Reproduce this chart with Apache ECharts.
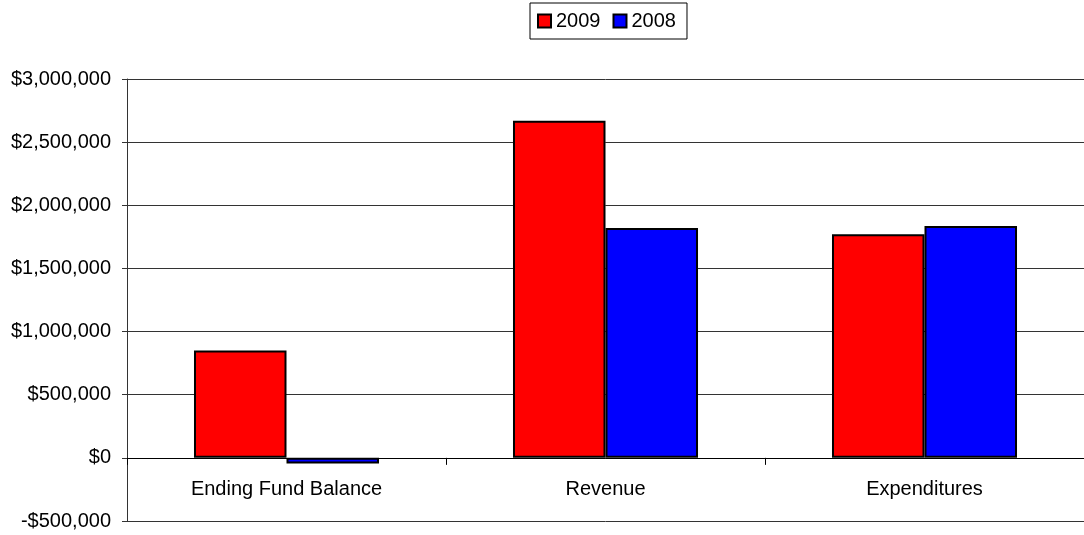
<!DOCTYPE html>
<html>
<head>
<meta charset="utf-8">
<script src="https://cdn.jsdelivr.net/npm/echarts@6/dist/echarts.min.js"></script>
<style>
  html, body { margin: 0; padding: 0; background: #fff; }
  #chart { width: 1084px; height: 535px; }
</style>
</head>
<body>
<div id="chart"></div>
<script>
// Fund summary: ending balance, revenue and expenditures, 2009 vs 2008
const categories = ['Ending Fund Balance', 'Revenue', 'Expenditures'];
const values2009 = [850000, 2670000, 1770000];
const values2008 = [-45000, 1820000, 1835000];
const yTicks = { min: -500000, max: 3000000, step: 500000 };

const fontFamily = '"Liberation Sans", Arial, sans-serif';

function dollars(v) {
  const s = '$' + Math.abs(v).toLocaleString('en-US');
  return v < 0 ? '-' + s : s;
}

const W = 1084, H = 535;
const gridBox = { left: 127, right: 0, top: 79, bottom: 14 };
const plotHeight = H - gridBox.top - gridBox.bottom;
// the category axis (line, ticks and labels) sits on the $0 line
const zeroOffset = -plotHeight * (0 - yTicks.min) / (yTicks.max - yTicks.min);

const chart = echarts.init(document.getElementById('chart'), null, { renderer: 'canvas' });

const barBorder = { borderColor: '#000', borderWidth: 2 };

chart.setOption({
  animation: false,
  backgroundColor: '#fff',
  textStyle: { fontFamily: fontFamily, color: '#000' },
  legend: {
    left: 530,
    top: 3,
    padding: [8, 11, 8, 7],
    borderColor: '#000',
    borderWidth: 1,
    itemGap: 12,
    itemWidth: 13,
    itemHeight: 13,
    icon: 'rect',
    textStyle: { fontSize: 20, color: '#000', fontFamily: fontFamily },
    data: ['2009', '2008']
  },
  grid: Object.assign({ containLabel: false, outerBoundsMode: 'none' }, gridBox),
  xAxis: {
    type: 'category',
    data: categories,
    offset: zeroOffset,
    axisLine: { onZero: false, lineStyle: { color: '#000', width: 1 } },
    axisTick: { show: true, length: 7, interval: 0, lineStyle: { color: '#000' } },
    axisLabel: { fontSize: 20, color: '#000', margin: 22, interval: 0, fontFamily: fontFamily },
    splitLine: { show: false }
  },
  yAxis: {
    type: 'value',
    min: yTicks.min,
    max: yTicks.max,
    interval: yTicks.step,
    axisLine: { show: true, lineStyle: { color: '#333', width: 1 } },
    axisTick: { show: true, length: 5, lineStyle: { color: '#333' } },
    axisLabel: { fontSize: 20, color: '#000', margin: 16, formatter: dollars, fontFamily: fontFamily },
    splitLine: { show: true, lineStyle: { color: '#333', width: 1 } }
  },
  series: [
    {
      name: '2009',
      type: 'bar',
      data: values2009,
      barGap: '0%',
      barCategoryGap: '42%',
      itemStyle: Object.assign({ color: '#ff0000' }, barBorder)
    },
    {
      name: '2008',
      type: 'bar',
      data: values2008,
      barGap: '0%',
      barCategoryGap: '42%',
      itemStyle: Object.assign({ color: '#0000ff' }, barBorder)
    }
  ]
});
</script>
</body>
</html>
